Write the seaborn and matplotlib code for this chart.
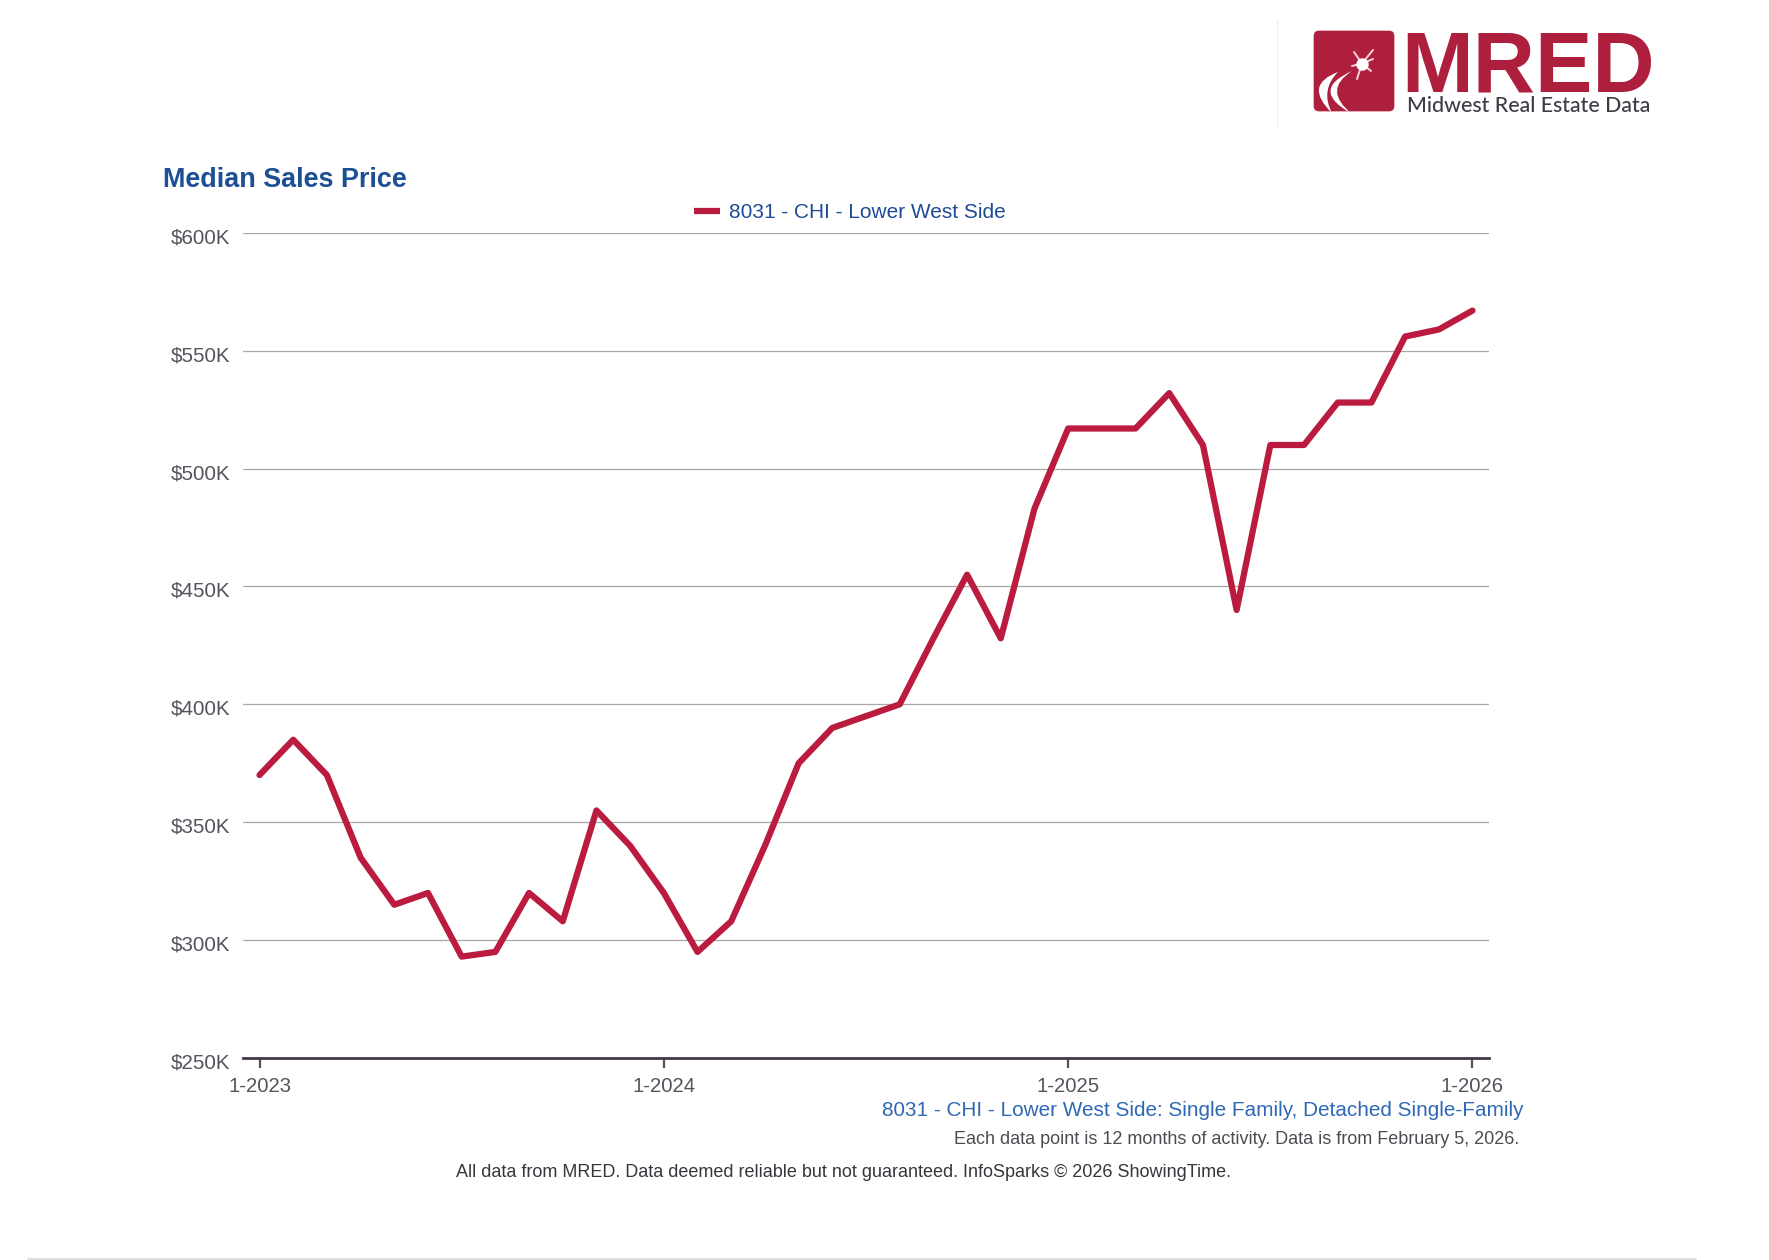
import matplotlib
matplotlib.use("Agg")
import matplotlib.pyplot as plt
from matplotlib.patches import FancyBboxPatch, PathPatch
from matplotlib.path import Path
from matplotlib.transforms import ScaledTranslation
import pandas as pd
import seaborn as sns

series_name = "8031 - CHI - Lower West Side"
month_index = list(range(37))
median_price = [370, 385, 370, 335, 315, 320, 293, 295, 320, 308, 355, 340,
                320, 295, 308, 340, 375, 390, 395, 400, 428, 455, 428, 483,
                517, 517, 517, 532, 510, 440, 510, 510, 528, 528, 556, 559, 567]
y_ticks = [250, 300, 350, 400, 450, 500, 550, 600]
y_tick_labels = ["$250K", "$300K", "$350K", "$400K", "$450K", "$500K", "$550K", "$600K"]
x_ticks = [0, 12, 24, 36]
x_tick_labels = ["1-2023", "1-2024", "1-2025", "1-2026"]

sns.set_theme(style="white")
plt.rcParams["font.family"] = ["Liberation Sans", "DejaVu Sans"]

W, H = 1769, 1260
RED = "#ba1b3e"
NAVY = "#1f4b96"
GREY = "#55535c"
fig = plt.figure(figsize=(W / 100, H / 100), dpi=100, facecolor="white")

# pixel-space overlay for the page furniture
page = fig.add_axes([0, 0, 1, 1], zorder=0)
page.set_xlim(0, W)
page.set_ylim(H, 0)
page.axis("off")

# chart axes
L, R, T, B = 243, 1489, 232.8, 1058
ax = fig.add_axes([L / W, 1 - B / H, (R - L) / W, (B - T) / H], zorder=1)
ax.patch.set_alpha(0)
df = pd.DataFrame({"month": month_index, "price": median_price, "area": series_name})
sns.lineplot(data=df, x="month", y="price", hue="area", palette=[RED], linewidth=4.5,
             ax=ax, legend=True, solid_joinstyle="round", solid_capstyle="round")
ax.set_xlim(-0.49, 36.49)
ax.set_ylim(250, 600)
ax.set_xlabel("")
ax.set_ylabel("")
ax.set_yticks(y_ticks, y_tick_labels)
ax.set_xticks(x_ticks, x_tick_labels)
ax.yaxis.grid(True, color="#a9a7a9", linewidth=0.9)
ax.xaxis.grid(False)
ax.set_axisbelow(True)
for s in ["top", "left", "right"]:
    ax.spines[s].set_visible(False)
ax.spines["bottom"].set_color("#43384a")
ax.spines["bottom"].set_linewidth(2.0)
ax.tick_params(axis="y", length=0, pad=9, labelsize=14.8, labelcolor=GREY)
ax.tick_params(axis="x", length=7, width=1.6, color="#5a4f58", pad=7,
               labelsize=14.6, labelcolor=GREY)
ax.tick_params(axis="x", bottom=True)
shift = ScaledTranslation(0, -3 / 100, fig.dpi_scale_trans)
for lab in ax.get_yticklabels():
    lab.set_transform(lab.get_transform() + shift)

handles, labels = ax.get_legend_handles_labels()
leg = ax.legend(handles, labels, frameon=False, loc="center left",
                bbox_to_anchor=((694 - L) / (R - L), 1 + (T - 213) / (B - T)),
                fontsize=15.05, handlelength=1.25, handletextpad=0.42,
                borderpad=0, borderaxespad=0)
for t in leg.get_texts():
    t.set_color(NAVY)
for h in leg.get_lines():
    h.set_linewidth(4.5)
    h.set_solid_capstyle("butt")

# page text
page.text(163, 180, "Median Sales Price", fontsize=19.45, fontweight="bold",
          color="#1c4f94", va="center", ha="left")
page.text(1523, 1110.5, "8031 - CHI - Lower West Side: Single Family, Detached Single-Family",
          fontsize=14.92, color="#2f69b5", va="center", ha="right")
page.text(1519, 1139.5, "Each data point is 12 months of activity. Data is from February 5, 2026.",
          fontsize=12.95, color="#4e4c52", va="center", ha="right")
page.text(456, 1172.5, "All data from MRED. Data deemed reliable but not guaranteed. InfoSparks \u00a9 2026 ShowingTime.",
          fontsize=13, color="#38363c", va="center", ha="left")

# rules
page.plot([1277, 1277], [20, 128], color="#f0f0f0", lw=1)
page.plot([28, 1696], [1259, 1259], color="#dddddd", lw=1.5)

# logo
LOGO = "#ae1f3e"
square = FancyBboxPatch((1314, 31), 80, 80, boxstyle="round,pad=0,rounding_size=5",
                        fc=LOGO, ec=LOGO, lw=0.5)
page.add_patch(square)
Q = Path.CURVE3
for tip, outer, end, inner in [((1338, 72), (1303, 85), (1332, 113), (1320, 90)),
                               ((1352, 71), (1309, 90), (1352, 114), (1322, 90))]:
    swoosh = PathPatch(Path([tip, outer, end, inner, tip], [Path.MOVETO, Q, Q, Q, Q]),
                       fc="white", ec="none")
    page.add_patch(swoosh)
    swoosh.set_clip_path(square)
cx, cy = 1362, 63.5
for x2, y2 in [(1373, 50), (1354, 52), (1373, 59), (1352, 66), (1357, 79), (1371, 71)]:
    page.plot([cx, x2], [cy, y2], color="#f5d5da", lw=1.4, solid_capstyle="round")
page.scatter([cx], [cy], s=80, color="white", zorder=3, linewidths=0)
page.text(1401, 91, "MRED", fontsize=62, fontweight="bold",
          color=LOGO, va="baseline", ha="left")
page.text(1407, 105.5, "Midwest Real Estate Data", fontsize=15.4, fontweight="medium",
          family="Lato", color="#3d3d48", va="center", ha="left")

fig.savefig("out.png", dpi=100, facecolor="white")
